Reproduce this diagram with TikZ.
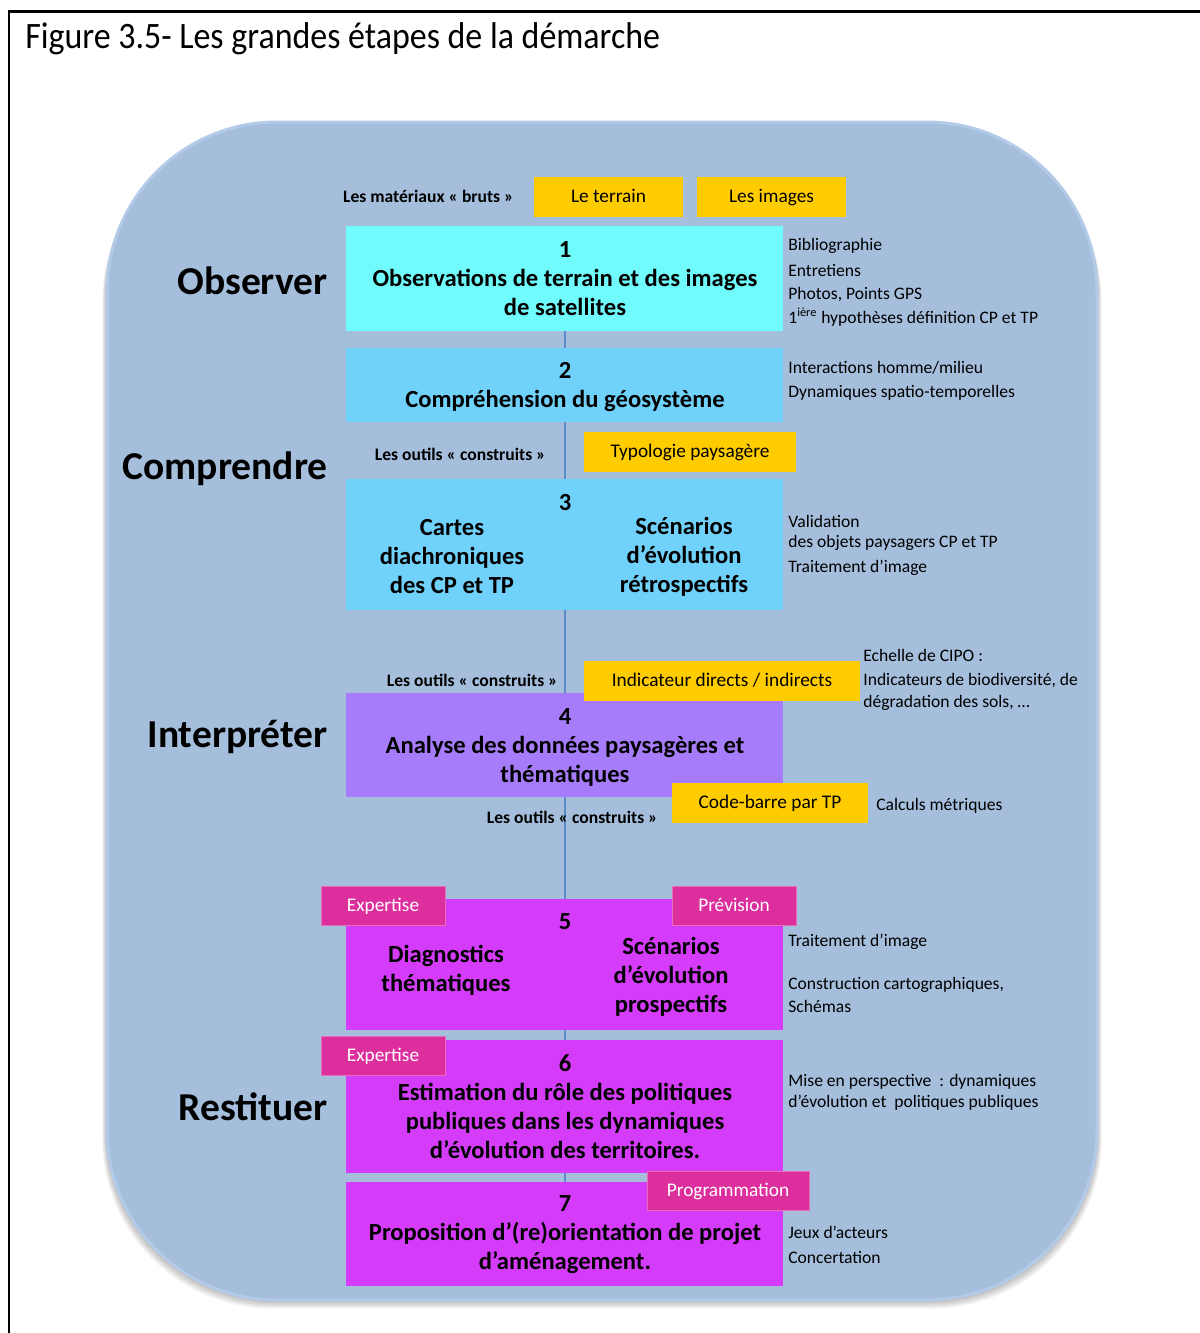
\documentclass[tikz,border=0pt]{standalone}
\usepackage{fontspec}
\setmainfont{Carlito}
\definecolor{bgblue}{HTML}{A4BEDC}
\definecolor{rimblue}{HTML}{B3CBE8}
\definecolor{cyanA}{HTML}{70FBFC}
\definecolor{skyB}{HTML}{70D2FB}
\definecolor{lavC}{HTML}{A67CFA}
\definecolor{magD}{HTML}{D53CF9}
\definecolor{pinkE}{HTML}{DD2E9E}
\definecolor{yelF}{HTML}{FFCC00}
\definecolor{lineG}{HTML}{5B8CC8}
\tikzset{
  stepbox/.style={rectangle, inner sep=0pt, minimum width=8.74cm},
  boxtxt/.style={font=\bfseries\fontsize{14}{16.5}\selectfont, align=center, inner sep=0pt},
  phase/.style={font=\bfseries\fontsize{22.5}{27}\selectfont, anchor=east, inner sep=0pt},
  note/.style={font=\fontsize{10}{12}\selectfont, anchor=west, inner sep=0pt},
  tool/.style={font=\bfseries\fontsize{10}{12}\selectfont, inner sep=0pt},
  ytag/.style={rectangle, fill=yelF, font=\fontsize{11}{13}\selectfont, minimum height=0.8cm, inner sep=0pt, text height=1.75ex, text depth=0.4ex},
  ptag/.style={rectangle, fill=pinkE, draw=pinkE!70!white, line width=0.3pt, text=white, font=\fontsize{11}{13}\selectfont, minimum height=0.78cm, inner sep=0pt, text height=1.75ex, text depth=0.4ex},
  link/.style={draw=lineG, line width=0.04cm}
}
\begin{document}
\begin{tikzpicture}[x=0.02cm, y=-0.02cm]
\useasboundingbox (0,0) rectangle (1200,1333);
\fill[white] (0,0) rectangle (1200,1333);
% frame
\draw[line width=0.06cm, black] (9,1333) -- (9,11) -- (1200,11);
% title
\node[anchor=base west, inner sep=0pt] (title) at (25,48) {\fontsize{19.3}{22}\selectfont\scalebox{1}[1.1]{Figure 3.5- Les grandes étapes de la démarche}};
% background shadow
\foreach \i in {1,...,8} {
  \fill[black, opacity=0.035, rounded corners=3.4cm] (107-\i*0.6,122+\i*1.2) rectangle (1097+\i*0.6,1300+\i*1.1);
}
\fill[bgblue, draw=rimblue, line width=0.06cm, rounded corners=3.4cm] (107,122) rectangle (1097,1300);
% step boxes
\node[stepbox, fill=cyanA, minimum height=2.1cm] (b1) at (564.5,278.5) {};
\node[stepbox, fill=skyB, minimum height=1.48cm] (b2) at (564.5,385) {};
\node[stepbox, fill=skyB, minimum height=2.62cm] (b3) at (564.5,544.5) {};
\node[stepbox, fill=lavC, minimum height=2.08cm] (b4) at (564.5,745) {};
\node[stepbox, fill=magD, minimum height=2.62cm] (b5) at (564.5,964.5) {};
\node[stepbox, fill=magD, minimum height=2.66cm] (b6) at (564.5,1106.5) {};
\node[stepbox, fill=magD, minimum height=2.08cm] (b7) at (564.5,1234) {};
% connectors
\draw[link] (b1.south) -- (b2.north);
\draw[link] (b2.south) -- (b3.north);
\draw[link] (b3.south) -- (b4.north);
\draw[link] (b4.south) -- (b5.north);
\draw[link] (b5.south) -- (b6.north);
\draw[link] (b6.south) -- (b7.north);
% box texts
\node[boxtxt] (t1) at (565,279) {1\\Observations de terrain et des images\\de satellites};
\node[boxtxt] (t2) at (565,387) {2\\Compréhension du géosystème};
\node[boxtxt] (t3) at (565,503) {3};
\node[boxtxt] (t3a) at (452,557) {Cartes\\diachroniques\\des CP et TP};
\node[boxtxt] (t3b) at (684,557) {Scénarios\\d’évolution\\rétrospectifs};
\node[boxtxt] (t4) at (565,747) {4\\Analyse des données paysagères et\\thématiques};
\node[boxtxt] (t5) at (565,922) {5};
\node[boxtxt] (t5a) at (446,970) {Diagnostics\\thématiques};
\node[boxtxt] (t5b) at (671,977) {Scénarios\\d’évolution\\prospectifs};
\node[boxtxt] (t6) at (565,1107) {6\\Estimation du rôle des politiques\\publiques dans les dynamiques\\d’évolution des territoires.};
\node[boxtxt] (t7) at (565,1235) {7\\Proposition d’(re)orientation de projet\\d’aménagement.};
% phases
\node[phase] (p1) at (328,281) {Observer};
\node[phase] (p2) at (328,469) {Comprendre};
\node[phase] (p3) at (328,737) {Interpréter};
\node[phase] (p4) at (328,1107) {Restituer};
% yellow tags
\node[ytag, minimum width=2.98cm] (y1) at (608.5,197) {Le terrain};
\node[ytag, minimum width=2.98cm] (y2) at (771.5,197) {Les images};
\node[ytag, minimum width=4.24cm] (y3) at (690,452) {Typologie paysagère};
\node[ytag, minimum width=5.52cm] (y4) at (722,681) {Indicateur directs / indirects};
\node[ytag, minimum width=3.92cm] (y5) at (770,803) {Code-barre par TP};
% pink tags
\node[ptag, minimum width=2.48cm] (k1) at (383,905.5) {Expertise};
\node[ptag, minimum width=2.48cm] (k2) at (734,905.5) {Prévision};
\node[ptag, minimum width=2.48cm] (k3) at (383,1055.5) {Expertise};
\node[ptag, minimum width=3.24cm] (k4) at (728,1190.5) {Programmation};
% tool labels
\node[tool, anchor=east] (l1) at (514,196) {Les matériaux « bruts »};
\node[tool, anchor=east] (l2) at (546,454) {Les outils « construits »};
\node[tool, anchor=east] (l3) at (558,680) {Les outils « construits »};
\node[tool, anchor=east] (l4) at (658,817) {Les outils « construits »};
% notes
\node[note] (n1) at (788,246) {Bibliographie};
\node[note] (n2) at (788,270) {Entretiens};
\node[note] (n3) at (788,295) {Photos, Points GPS};
\node[note] (n4) at (788,317) {1\textsuperscript{ière} hypothèses définition CP et TP};
\node[note] (n5) at (788,368) {Interactions homme/milieu};
\node[note] (n6) at (788,393) {Dynamiques spatio-temporelles};
\node[note] (n7) at (788,521) {Validation};
\node[note] (n8) at (788,543) {des objets paysagers CP et TP};
\node[note] (n9) at (788,568) {Traitement d’image};
\node[note] (n10) at (863,655) {Echelle de CIPO :};
\node[note] (n11) at (863,681) {Indicateurs de biodiversité, de};
\node[note] (n12) at (863,703) {dégradation des sols, …};
\node[note] (n13) at (876,806) {Calculs métriques};
\node[note] (n14) at (788,942) {Traitement d’image};
\node[note] (n15) at (788,985) {Construction cartographiques,};
\node[note] (n16) at (788,1006) {Schémas};
\node[note] (n17) at (788,1082) {Mise en perspective~ : dynamiques};
\node[note] (n18) at (788,1103) {d’évolution et~ politiques publiques};
\node[note] (n19) at (788,1232) {Jeux d’acteurs};
\node[note] (n20) at (788,1257) {Concertation};
\end{tikzpicture}
\end{document}
